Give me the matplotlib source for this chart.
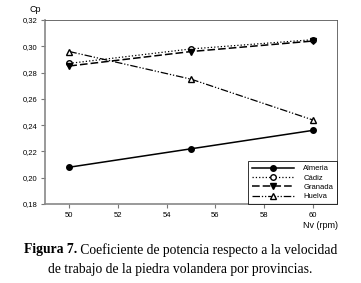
import matplotlib
matplotlib.use('Agg')
import matplotlib.pyplot as plt

# Velocidad de trabajo (rpm) y coeficiente de potencia por provincia
nv = [50, 55, 60]
almeria = [0.208, 0.222, 0.236]
cadiz = [0.287, 0.298, 0.305]
granada = [0.285, 0.296, 0.304]
huelva = [0.296, 0.275, 0.244]

xticks = [50, 52, 54, 56, 58, 60]
yticks = [0.18, 0.20, 0.22, 0.24, 0.26, 0.28, 0.30, 0.32]

plt.rcParams['font.family'] = ['Liberation Sans', 'DejaVu Sans']

fig = plt.figure(figsize=(3.61, 2.83), dpi=100)
ax = fig.add_axes([45 / 361, 1 - 204 / 283, 292 / 361, 184 / 283])

ax.plot(nv, almeria, color='black', lw=1.1, marker='o', ms=4,
        mfc='black', label='Almeria')
ax.plot(nv, cadiz, color='black', lw=0.9, ls=':', marker='o', ms=4,
        mfc='white', label='Cádiz')
ax.plot(nv, granada, color='black', lw=1.1, ls=(0, (5, 2)), marker='v', ms=4,
        mfc='black', label='Granada')
ax.plot(nv, huelva, color='black', lw=0.9, ls=(0, (6, 1.5, 1, 1.5, 1, 1.5)),
        marker='^', ms=4, mfc='white', label='Huelva')

ax.set_xlim(49.0, 61.0)
ax.set_ylim(0.18, 0.32)
ax.set_xticks(xticks)
ax.set_yticks(yticks)
ax.set_xticklabels([str(t) for t in xticks])
ax.set_yticklabels(['{:.2f}'.format(t).replace('.', ',') for t in yticks])
ax.tick_params(labelsize=5.5, length=3, width=0.8, color='#777777', pad=2.5)

for side in ['left', 'bottom']:
    ax.spines[side].set_color('#888888')
    ax.spines[side].set_linewidth(1.2)
for side in ['top', 'right']:
    ax.spines[side].set_color('#555555')
    ax.spines[side].set_linewidth(0.6)

leg = ax.legend(loc='lower right', fontsize=5.5, frameon=True, fancybox=False,
                edgecolor='black', handlelength=5.5, borderaxespad=0,
                labelspacing=0.25, borderpad=0.5, handletextpad=1.2)
leg.get_frame().set_linewidth(0.7)

fig.text(29 / 361, 1 - 9 / 283, 'Cp', fontsize=6.5, ha='left', va='center')
fig.text(338 / 361, 1 - 226 / 283, 'Nv (rpm)', fontsize=6.5, ha='right', va='center')

# pie de figura: "Figura 7." en negrita y el resto normal
serif = 'Liberation Serif'
line1_bold = 'Figura 7.'
line1_rest = ' Coeficiente de potencia respecto a la velocidad'
line2 = 'de trabajo de la piedra volandera por provincias.'
fs = 9.8

r = fig.canvas.get_renderer()
tb = fig.text(0, 0, line1_bold, fontsize=fs, family=serif, weight='bold')
tr = fig.text(0, 0, line1_rest, fontsize=fs, family=serif)
wb = tb.get_window_extent(r).width
wr = tr.get_window_extent(r).width
x0 = (361 - wb - wr) / 2
y1 = 1 - 250 / 283
tb.set_position((x0 / 361, y1))
tr.set_position(((x0 + wb) / 361, y1))
tb.set_va('center')
tr.set_va('center')
fig.text(0.5, 1 - 270 / 283, line2, fontsize=fs, family=serif, ha='center', va='center')

fig.savefig('out.png', dpi=100)
